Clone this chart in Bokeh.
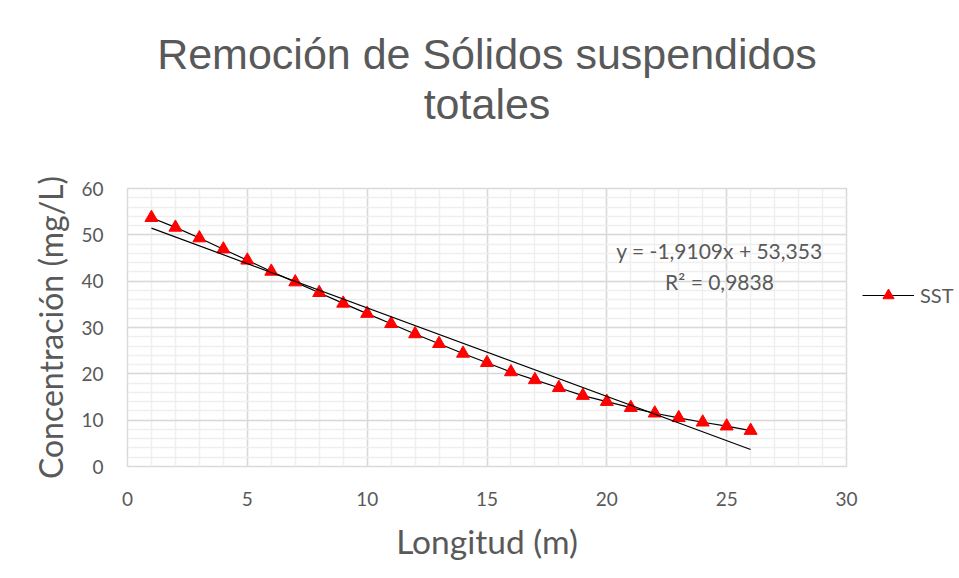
import math
from bokeh.plotting import figure
from bokeh.models import (Range1d, SingleIntervalTicker, Label, Legend, LegendItem, Title)
from bokeh.embed import file_html
from bokeh.resources import INLINE

# ---- data ----
longitud = list(range(1, 27))
sst = [53.7, 51.6, 49.3, 46.9, 44.5, 42.1, 39.8, 37.5, 35.2, 33.0,
       30.8, 28.6, 26.5, 24.4, 22.4, 20.4, 18.7, 17.0, 15.3, 14.0,
       12.7, 11.5, 10.5, 9.55, 8.7, 7.75]
trend_slope = -1.9109
trend_intercept = 53.353
trend_x = [1, 26]
trend_y = [trend_slope * x + trend_intercept for x in trend_x]
eq_text = "y = -1,9109x + 53,353"
r2_text = "R² = 0,9838"
title_lines = ["Remoción de Sólidos suspendidos", "totales"]
x_label = "Longitud (m)"
y_label = "Concentración (mg/L)"
series_name = "SST"

GRAY = "#595959"
FONT = "Lato"

p = figure(width=959, height=578, frame_width=719, frame_height=278,
           x_range=Range1d(0, 30), y_range=Range1d(0, 60),
           output_backend="svg", toolbar_location=None,
           min_border_left=127, min_border_right=113,
           min_border_top=188, min_border_bottom=112)
p.background_fill_color = "white"
p.border_fill_color = "white"
p.outline_line_color = "#d9d9d9"
p.outline_line_width = 1.5

# titles (two lines); a spacer title sits between the plot area and line 2
p.title.text = title_lines[0]
p.title.align = "center"
p.title.text_font = "Liberation Sans"
p.title.text_font_size = "43px"
p.title.text_font_style = "normal"
p.title.text_color = GRAY
p.title.standoff = 0
spacer = Title(text=" ", text_font_size="1px", standoff=58)
p.add_layout(spacer, "above")
t2 = Title(text=title_lines[1], align="center", text_font="Liberation Sans",
           text_font_size="43px", text_font_style="normal", text_color=GRAY,
           standoff=0)
p.add_layout(t2, "above")

p.xaxis.ticker = SingleIntervalTicker(interval=5, num_minor_ticks=5)
p.yaxis.ticker = SingleIntervalTicker(interval=10, num_minor_ticks=5)
for ax in (p.xaxis[0], p.yaxis[0]):
    ax.axis_line_color = None
    ax.major_tick_line_color = None
    ax.minor_tick_line_color = None
    ax.major_label_text_font = FONT
    ax.major_label_text_font_size = "19px"
    ax.major_label_text_color = GRAY
    ax.axis_label_text_font = FONT
    ax.axis_label_text_font_style = "normal"
    ax.axis_label_text_color = GRAY
p.xaxis.axis_label_text_font_size = "33.5px"
p.yaxis.axis_label_text_font_size = "32px"
p.xaxis.major_label_standoff = 19
p.yaxis.major_label_standoff = 18
p.xaxis.axis_label = x_label
p.yaxis.axis_label = y_label
p.xaxis.axis_label_standoff = 12
p.yaxis.axis_label_standoff = 8

for g in (p.xgrid[0], p.ygrid[0]):
    g.grid_line_color = "#d9d9d9"
    g.grid_line_width = 1.5
    g.minor_grid_line_color = "#efefef"
    g.minor_grid_line_width = 1.5

line_r = p.line(longitud, sst, line_color="black", line_width=1.2)
scat_r = p.scatter(longitud, sst, marker="triangle", size=13,
                   fill_color="red", line_color="red")
p.line(trend_x, trend_y, line_color="black", line_width=1.2)

legend = Legend(items=[LegendItem(label=series_name, renderers=[line_r, scat_r])],
                location=(16, 157), glyph_width=52, glyph_height=28,
                label_height=28, padding=0, margin=0, border_line_color=None,
                background_fill_alpha=0, label_text_font=FONT,
                label_text_font_size="20px", label_text_color=GRAY,
                label_standoff=6)
p.add_layout(legend, "right")

# regression equation
p.add_layout(Label(x=24.7, y=46.6, text=eq_text, text_align="center",
                   text_baseline="middle", text_font=FONT,
                   text_font_size="21px", text_color=GRAY))
p.add_layout(Label(x=24.7, y=39.9, text=r2_text, text_align="center",
                   text_baseline="middle", text_font=FONT,
                   text_font_size="21px", text_color=GRAY))

open("out.html", "w").write(file_html(p, INLINE))
